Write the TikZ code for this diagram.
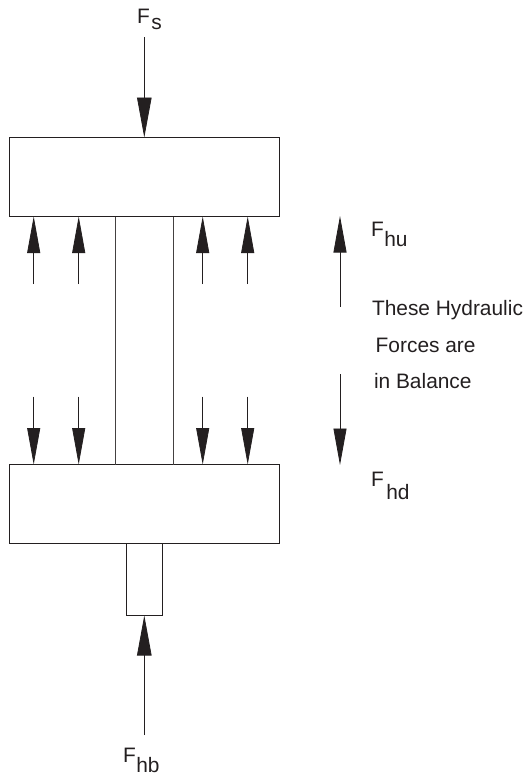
\documentclass[tikz,border=0pt]{standalone}
\usepackage{fontspec}
\setmainfont{Liberation Sans}
\usetikzlibrary{arrows.meta,calc}
\definecolor{ink}{HTML}{231F20}
\tikzset{
  part/.style={draw=ink,line width=0.8pt,fill=white,inner sep=0,outer sep=0,anchor=north west},
  stemline/.style={draw=ink!85,line width=0.8pt},
  bigforce/.style={draw=ink,line width=0.8pt,-{Triangle[length=40pt,width=14.5pt,fill=ink]}},
  smallforce/.style={draw=ink,line width=0.8pt,-{Triangle[length=36.5pt,width=13pt,fill=ink]}},
  lab/.style={anchor=base west,inner sep=0,outer sep=0,text=ink,font=\fontsize{20.9}{24}\selectfont},
}
\newcommand{\subF}[3]{F\kern#1pt\raisebox{-#2pt}{#3}}
\begin{document}
\begin{tikzpicture}[x=1pt,y=-1pt]
\useasboundingbox (0,0) rectangle (526,777);
% bodies
\node[part,minimum width=270.5pt,minimum height=79pt] (top) at (9,137.5) {};
\node[part,minimum width=270.5pt,minimum height=79pt] (bot) at (9,464.5) {};
\node[part,minimum width=36.3pt,minimum height=72pt] (pin) at (126,543.5) {};
% stem
\coordinate (sl) at (115,300);
\coordinate (sr) at (173.5,300);
\draw[stemline] (sl |- top.south) -- (sl |- bot.north);
\draw[stemline] (sr |- top.south) -- (sr |- bot.north);
% main forces
\coordinate (fsT) at (144.3,37);
\coordinate (fbB) at (144.3,735);
\draw[bigforce] (fsT) -- (fsT |- top.north);
\draw[bigforce] (fbB) -- (fbB |- pin.south);
% pressure arrows
\foreach \n/\x in {a/33.7,b/78.7,c/202.7,d/247.7}{
  \coordinate (u\n) at (\x,284);
  \coordinate (l\n) at (\x,396.7);
  \draw[smallforce] (u\n) -- (u\n |- top.south);
  \draw[smallforce] (l\n) -- (l\n |- bot.north);
}
% balance arrows
\coordinate (hu1) at (340,306.7);
\coordinate (hu2) at (340,216);
\coordinate (hd1) at (340,374);
\coordinate (hd2) at (340,465);
\draw[smallforce] (hu1) -- (hu2);
\draw[smallforce] (hd1) -- (hd2);
% labels
\node[lab] (fs) at (137,23) {\subF{1.5}{6}{s}};
\node[lab] (fhu) at (371,236.7) {\subF{0.5}{10}{hu}};
\node[lab] (fhd) at (371,486.7) {\subF{2.5}{12.3}{hd}};
\node[lab] (fhb) at (123,762.3) {\subF{0.5}{10.4}{hb}};
\node[lab] (t1) at (372,315) {These Hydraulic};
\node[lab] (t2) at (375.7,352.7) {Forces are};
\node[lab] (t3) at (374,388) {in Balance};
\end{tikzpicture}
\end{document}
